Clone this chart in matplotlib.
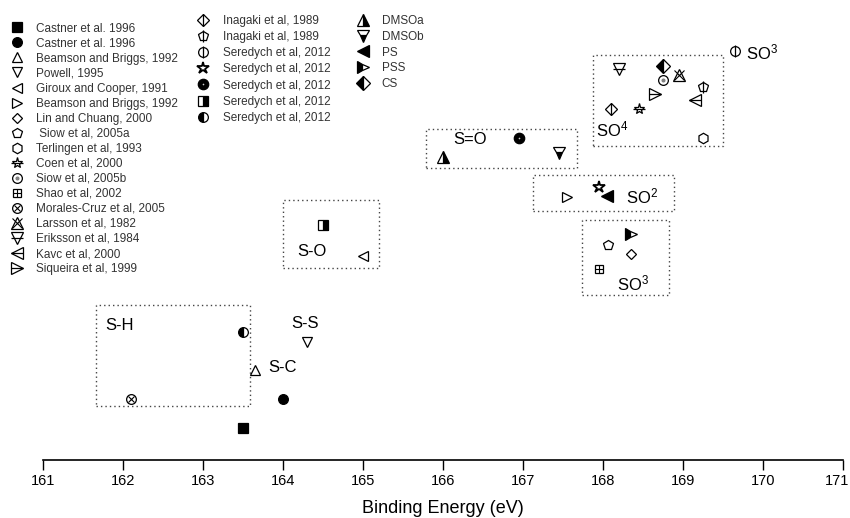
import matplotlib
matplotlib.use("Agg")
import matplotlib.pyplot as plt
import matplotlib.transforms as mtransforms
from matplotlib.patches import Rectangle

plt.rcParams["font.family"] = ["Liberation Sans", "DejaVu Sans"]
plt.rcParams["mathtext.default"] = "regular"

# series: label, binding energy (eV), vertical row (arbitrary)
labels = [
    "Castner et al. 1996", "Castner et al. 1996", "Beamson and Briggs, 1992",
    "Powell, 1995", "Giroux and Cooper, 1991", "Beamson and Briggs, 1992",
    "Lin and Chuang, 2000", " Siow et al, 2005a", "Terlingen et al, 1993",
    "Coen et al, 2000", "Siow et al, 2005b", "Shao et al, 2002",
    "Morales-Cruz et al, 2005", "Larsson et al, 1982", "Eriksson et al, 1984",
    "Kavc et al, 2000", "Siqueira et al, 1999",
    "Inagaki et al, 1989", "Inagaki et al, 1989", "Seredych et al, 2012",
    "Seredych et al, 2012", "Seredych et al, 2012", "Seredych et al, 2012",
    "Seredych et al, 2012",
    "DMSOa", "DMSOb", "PS", "PSS", "CS",
]
energy = [
    163.5, 164.0, 163.65, 164.3, 165.0, 167.55, 168.35, 168.06, 169.25,
    168.45, 168.75, 167.95, 162.1, 168.95, 168.2, 169.15, 168.65,
    168.1, 169.25, 169.65, 167.95, 166.95, 164.5, 163.5,
    166.0, 167.45, 168.05, 168.35, 168.75,
]
row = [
    32, 61, 90, 118, 204, 263, 206, 215, 322,
    351, 380, 191, 61, 385, 391, 360, 366,
    351, 373, 409, 273, 322, 235, 128,
    303, 307, 264, 226, 394,
]
legend_cols = [17, 7, 5]

# bonding groups: name, box (x0, x1, y0, y1), label position
group_names = ["S-H", "S-O", "S=O", "", "", "", "S-S", "S-C",
               "SO$^2$", "SO$^4$", "SO$^3$", "SO$^3$"]
box_x0 = [161.66, 164.0, 165.79, 167.13, 167.875, 167.74]
box_x1 = [163.59, 165.2, 167.68, 168.89, 169.5, 168.83]
box_y0 = [54, 192, 292, 249, 314, 165]
box_y1 = [155, 260, 331, 285, 405, 240]
label_x = [161.78, 164.18, 166.13, 0, 0, 0, 164.1, 163.81,
           168.29, 167.91, 169.79, 168.18]
label_y = [134, 208, 320, 0, 0, 0, 137, 92, 264, 331, 408, 177]


def L(m, fc="white", ms=7, fs="full", mew=0.9, ec="black"):
    return dict(marker=m, markerfacecolor=fc, markersize=ms, fillstyle=fs,
                markeredgewidth=mew, markeredgecolor=ec,
                markerfacecoloralt="white")


styles = [
    [L("s", "black", 6.5)],
    [L("o", "black", 7)],
    [L("^", ms=7.5)],
    [L("v", ms=7.5)],
    [L("<", ms=7.5)],
    [L(">", ms=7.5)],
    [L("D", ms=5.5)],
    [L("p", ms=7.5)],
    [L("h", ms=7.5)],
    [L("*", ms=8), L("_", ms=8)],
    [L("o", ms=7), L("o", "gray", 2, ec="gray")],
    [L("s", ms=6), L("+", ms=6, mew=0.8)],
    [L("o", ms=7), L("x", ms=5, mew=0.8)],
    [L("^", ms=8), L("x", ms=7, mew=0.8)],
    [L("v", ms=8), L("_", ms=9)],
    [L("<", ms=8), L("_", ms=9)],
    [L(">", ms=8), L("_", ms=9)],
    [L("D", ms=6.5), L("|", ms=8)],
    [L("p", ms=7.5), L("|", ms=8)],
    [L("o", ms=7), L("|", ms=8)],
    [L("*", ms=9, mew=1.3)],
    [L("o", "black", 7.5), L("o", "#cccccc", 1.2, mew=0, ec="#cccccc")],
    [L("s", "black", 6.5, fs="right")],
    [L("o", "black", 7, fs="left")],
    [L("^", "black", 8, fs="right")],
    [L("v", "black", 8, fs="bottom")],
    [L("<", "black", 8)],
    [L(">", "black", 8, fs="left")],
    [L("D", "black", 7, fs="left")],
]

fig = plt.figure(figsize=(8.5, 5.18), dpi=100)
ax = fig.add_axes([43 / 850, 58 / 518, 800 / 850, 460 / 518])

handles = []
for x, y, st in zip(energy, row, styles):
    hs = []
    for kw in st:
        h, = ax.plot([x], [y], linestyle="none", **kw)
        hs.append(h)
    handles.append(tuple(hs))

# dotted boxes around groups
for x0, x1, y0, y1 in zip(box_x0, box_x1, box_y0, box_y1):
    ax.add_patch(Rectangle((x0, y0), x1 - x0, y1 - y0, fill=False,
                           linestyle=(0, (1, 2.2)), linewidth=1.0,
                           edgecolor="#444444"))

for name, gx, gy in zip(group_names, label_x, label_y):
    if name:
        ax.text(gx, gy, name, fontsize=12, va="center", ha="left")

ax.set_xlim(161, 171)
ax.set_ylim(0, 460)
ax.set_xticks(range(161, 172))
ax.tick_params(axis="x", direction="out", length=7, width=1, pad=3,
               labelsize=10.5)
# last label sits at the right edge, keep it inside the figure
last = ax.get_xticklabels()[-1]
last.set_horizontalalignment("right")
last.set_transform(last.get_transform() +
                   mtransforms.ScaledTranslation(6 / 100, 0, fig.dpi_scale_trans))
ax.set_yticks([])
for s in ["left", "right", "top"]:
    ax.spines[s].set_visible(False)
ax.spines["bottom"].set_linewidth(1.2)
ax.set_xlabel("Binding Energy (eV)", fontsize=13, labelpad=9)

# three legend columns
anchors = [(10 / 850, 1 - 22.5 / 518), (196 / 850, 1 - 15 / 518),
           (356 / 850, 1 - 15 / 518)]
spacing = [0.257, 0.35, 0.32]
textpad = [1.0, 1.08, 0.99]
start = 0
for n, anc, ls, tp in zip(legend_cols, anchors, spacing, textpad):
    fig.legend(handles[start:start + n], labels[start:start + n],
               loc="upper left", bbox_to_anchor=anc, frameon=False,
               fontsize=8.5, labelspacing=ls, handlelength=1.2,
               handletextpad=tp, borderpad=0, borderaxespad=0,
               labelcolor="#333333")
    start += n

fig.savefig("out.png", dpi=100)
